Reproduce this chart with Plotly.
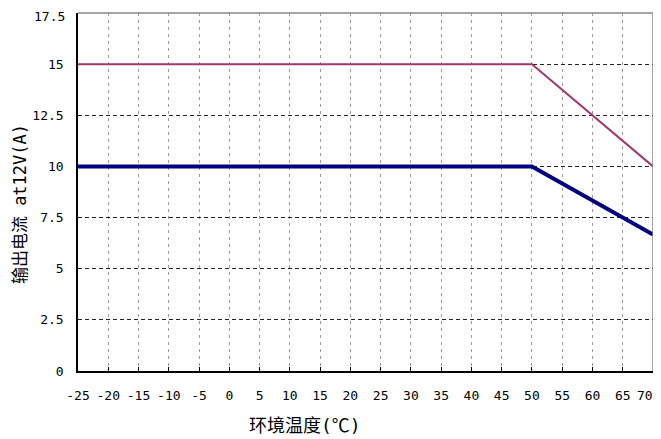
import plotly.graph_objects as go

temps = [-25, 50, 70]
current_a = [15, 15, 10]
current_b = [10, 10, 6.67]
x_ticks = list(range(-25, 75, 5))
x_tick_labels = [str(v) for v in x_ticks]
y_ticks = [0, 2.5, 5, 7.5, 10, 12.5, 15, 17.5]
y_tick_labels = ["0", "2.5", "5", "7.5", "10", "12.5", "15", "17.5"]
x_title = "环境温度(℃)"
y_title = "输出电流 at12V(A)"

font_mono = "DejaVu Sans Mono, monospace"
font_title = "DejaVu Sans Mono, Noto Sans CJK SC, sans-serif"

# the edge labels (last x, last y) are drawn as annotations pulled inward
x_tick_text = x_tick_labels[:-1] + [""]
y_tick_text = y_tick_labels[:-1] + [""]

fig = go.Figure()
fig.add_trace(go.Scatter(x=temps, y=current_a, mode="lines",
                         line=dict(color="#A3386E", width=2), showlegend=False))
fig.add_trace(go.Scatter(x=temps, y=current_b, mode="lines",
                         line=dict(color="#000080", width=4), showlegend=False))

# top and right border in grey
fig.add_shape(type="line", xref="paper", yref="paper", x0=0, x1=1, y0=1, y1=1,
              line=dict(color="#888888", width=1.5))
fig.add_shape(type="line", xref="paper", yref="paper", x0=1, x1=1, y0=0, y1=1,
              line=dict(color="#888888", width=1.5))

fig.add_annotation(text=x_tick_labels[-1], xref="x", yref="paper", x=x_ticks[-1], y=0,
                   xanchor="center", yanchor="middle", xshift=-8, yshift=-24,
                   showarrow=False, font=dict(family=font_mono, size=13, color="black"))
fig.add_annotation(text=y_tick_labels[-1], xref="paper", yref="y", x=0, y=y_ticks[-1],
                   xanchor="right", yanchor="middle", xshift=-11, yshift=-3,
                   showarrow=False, font=dict(family=font_mono, size=13, color="black"))

fig.add_annotation(text=x_title, xref="paper", yref="paper", x=0.395, y=-0.151,
                   xanchor="center", yanchor="middle", showarrow=False,
                   font=dict(family=font_title, size=18, color="black"))
fig.add_annotation(text=y_title, xref="paper", yref="paper", x=-0.101, y=0.466,
                   xanchor="center", yanchor="middle", textangle=-90, showarrow=False,
                   font=dict(family=font_title, size=17, color="black"))

# the page body has an 8px margin, so the figure is offset by 8px
fig.update_layout(
    width=653, height=431,
    margin=dict(l=70, r=8, t=5, b=68, autoexpand=False),
    paper_bgcolor="white", plot_bgcolor="white",
    font=dict(family=font_mono, size=13, color="black"),
    xaxis=dict(
        range=[-25, 70], tickvals=x_ticks, ticktext=x_tick_text,
        showgrid=True, gridcolor="#999999", griddash="3px,4px", gridwidth=1,
        showline=True, linecolor="black", linewidth=1.5,
        ticks="inside", ticklen=4, tickcolor="black",
        zeroline=False, automargin=False,
        ticklabelstandoff=12,
        tickfont=dict(size=13, family=font_mono),
    ),
    yaxis=dict(
        range=[0, 17.5], tickvals=y_ticks, ticktext=y_tick_text,
        showgrid=True, gridcolor="#222222", griddash="4px,3px", gridwidth=1,
        showline=True, linecolor="black", linewidth=1.5,
        ticks="", zeroline=False, automargin=False,
        ticklabelstandoff=10,
        tickfont=dict(size=13, family=font_mono),
    ),
)

fig.write_html("out.html")
